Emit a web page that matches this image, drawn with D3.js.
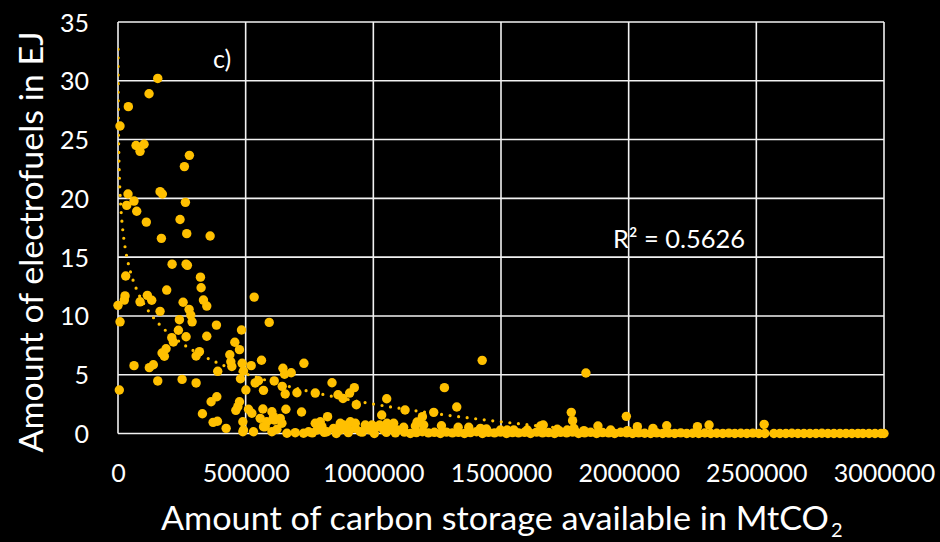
<!DOCTYPE html>
<html>
<head>
<meta charset="utf-8">
<script src="https://cdn.jsdelivr.net/npm/d3@7"></script>
<style>
html,body{margin:0;padding:0;background:#000;}
svg{display:block;}
text{font-family:Lato, "Open Sans", sans-serif;fill:#fff;}
</style>
</head>
<body>
<div id="chart"></div>
<script>
// ---- Data ----
const xTicks = [0, 500000, 1000000, 1500000, 2000000, 2500000, 3000000];
const yTicks = [0, 5, 10, 15, 20, 25, 30, 35];

// upper / mid scatter
const storageUpper = [155700,121600,40500,7800,70600,102000,86300,279600,260000,39200,34100,62700,73300,111000,164700,173700,264000,243000,169900,269200,360800,211800,266700,271800,322900,30200,325500,190800,27500,24800,0,115000,132100,86300,254900,334600,347700,278400,285000,290200,164700,533300,8000,240500,385600,592200,483700,236500,266700,347700,210600,216900,457500,188200,172500,181600,318900,305900,437900,475700,441800,445800,486300,521600,562000,645900,652200,678400,728200,62700,122700,138400,390600,479600,491400,5100,155700,251000,305900,537200,550300,569800,500800,611800,643100,654900,700800,772500,838100,861600,881200,907200,925500,387000,364700,330600,372500,389400,423500,475700,469400,461600,511000,524300,489000,489000,657600,718800,567500,602800,635300,933300,1052400,1032700,1426300,1832600,1278400,1326700,1124300,1236500,1192200,1171400,1053700,1024700,1775200,1780400,1990900,1665400,1879600,1118800,1197300,1266700,1332200,1373700,1443100,1720400,1929400,2034100,2095300,2149000,2269400,2314900,2530600];
const fuelsUpper = [30.2,28.9,27.8,26.15,24.5,24.6,24.0,23.66,22.7,20.37,19.4,19.77,18.9,17.98,20.57,20.37,19.66,18.2,16.6,17.0,16.8,14.4,14.4,14.3,13.3,13.4,12.4,12.2,11.7,11.35,10.9,11.75,11.33,11.2,11.16,11.35,10.84,10.56,10.08,9.5,10.39,11.6,9.5,9.68,9.22,9.45,8.8,8.78,8.23,8.27,8.15,7.78,7.76,7.21,6.85,6.57,6.96,6.59,6.7,7.13,6.1,5.7,5.97,5.77,6.23,5.55,5.04,5.17,5.97,5.77,5.6,5.85,5.29,4.66,5.32,3.7,4.47,4.6,4.3,4.3,4.49,3.67,3.7,4.47,4.01,3.36,3.47,3.44,4.32,3.3,2.98,3.44,3.9,3.13,2.7,1.68,0.95,1.04,0.44,2.7,2.28,1.97,2.06,1.72,1.0,0.15,2.06,1.83,2.08,1.85,1.29,2.45,2.96,1.57,6.22,5.15,3.9,2.25,2.0,1.8,1.43,0.98,0.87,0.72,1.8,1.09,1.46,0.72,0.64,0.53,0.72,0.66,0.53,0.53,0.38,0.36,0.3,0.58,0.44,0.66,0.58,0.72,0.78];

// low cluster
const storageLow = [556900,583100,609000,642000,820800,792200,772500,870600,909800,929400,968600,1079600,491400,530600,576500,602800,622400,661600,694100,726700,746300,779200,798800,818400,844300,870600,896900,929400,949000,988200,1014500,1040400,1066700,1092900,883500,994900,1164700,1419600,1498000,1550200,1654900,1785500,1524200,1602800,1759500,1824700,1994900,570000,611800];
const fuelsLow = [1.29,1.0,1.43,0.87,1.43,1.0,0.87,0.87,1.0,0.87,0.72,0.87,0.3,0.15,0.58,0.15,0.36,0.02,0.07,0.02,0.15,0.3,0.58,0.15,0.44,0.3,0.58,0.44,0.15,0.3,0.58,0.3,0.44,0.3,0.72,0.72,0.64,0.44,0.3,0.3,0.64,0.44,0.3,0.3,0.3,0.24,0.24,0.58,1.15];

// points lying on (or just above) zero
const storageZero = [760800,807800,854900,902000,956900,1003900,1051000,1086300,1121600,1145100,1168600,1192200,1215700,1239200,1262800,1286300,1309800,1333400,1356900,1380400,1404000,1427500,1451000,1474500,1498100,1521600,1545100,1568700,1592200,1615700,1639300,1662800,1686300,1709800,1733300,1756900,1780400,1803900,1827500,1851000,1874500,1898000,1921600,1945100,1968600,1992200,2015700,2039200,2062800,2086300,2109800,2133400,2156900,2180400,2204000,2227500,2251000,2274500,2298100,2321600,2345100,2368700,2392200,2415700,2439300,2462800,2486300,2509800,2533400,2568600,2592200,2615700,2639300,2662800,2686300,2709800,2733400,2756900,2780400,2803900,2827500,2851000,2874500,2898000,2917600,2941200,2964700,2988200,3000000];
const fuelsZero = [0.05,0.1,0,0.08,0.12,0,0.1,0.05,0.12,0,0.08,0.15,0.05,0.1,0,0.12,0.05,0.1,0,0.08,0.15,0,0.1,0.05,0.12,0,0.08,0.05,0.1,0,0.12,0.05,0.08,0,0.1,0.05,0.12,0,0.05,0.1,0,0.08,0.05,0,0.1,0.05,0,0.05,0.02,0,0.05,0,0.03,0,0.05,0,0.02,0,0.04,0,0.02,0,0.03,0,0.02,0,0.03,0,0,0,0,0,0.02,0,0,0,0,0.02,0,0,0,0,0,0,0,0,0,0,0];

// logarithmic trend line: y = a*ln(x) + b
const trendA = -3.72;
const trendB = 53.9;
const rSquared = "R\u00B2 = 0.5626";
const panelLabel = "c)";

// ---- Drawing ----
const W = 940, H = 542;
const gold = "#FFC000";
const svg = d3.select("#chart").append("svg").attr("width", W).attr("height", H)
  .style("background", "#000");

const x = d3.scaleLinear().domain([0, 3000000]).range([118, 884]);
const y = d3.scaleLinear().domain([0, 35]).range([433.5, 22]);

// gridlines
svg.append("g").selectAll("line.h").data(yTicks).join("line")
  .attr("x1", x(0)).attr("x2", x(3000000))
  .attr("y1", d => y(d)).attr("y2", d => y(d))
  .attr("stroke", "#f2f2f2").attr("stroke-width", 1.6);
svg.append("g").selectAll("line.v").data(xTicks).join("line")
  .attr("y1", y(0)).attr("y2", y(35))
  .attr("x1", d => x(d)).attr("x2", d => x(d))
  .attr("stroke", "#f2f2f2").attr("stroke-width", 1.6);

// axes via d3 axis (labels only)
const xAxis = d3.axisBottom(x).tickValues(xTicks).tickFormat(d3.format("d")).tickSize(0).tickPadding(0);
const gx = svg.append("g").call(xAxis);
gx.select(".domain").remove();
gx.selectAll("text").attr("y", 482).attr("dy", null)
  .attr("font-size", 25).attr("fill", "#fff").attr("font-family", "Lato");

const yAxis = d3.axisLeft(y).tickValues(yTicks).tickFormat(d3.format("d")).tickSize(0).tickPadding(0);
const gy = svg.append("g").call(yAxis);
gy.select(".domain").remove();
gy.selectAll("text").attr("x", 89).attr("dy", "0.36em")
  .attr("font-size", 25).attr("fill", "#fff").attr("font-family", "Lato").attr("text-anchor", "end");

// points
const pts = [];
storageUpper.forEach((v, i) => pts.push([v, fuelsUpper[i]]));
storageLow.forEach((v, i) => pts.push([v, fuelsLow[i]]));
storageZero.forEach((v, i) => pts.push([v, fuelsZero[i]]));

svg.append("g").selectAll("circle").data(pts).join("circle")
  .attr("cx", d => x(d[0])).attr("cy", d => y(d[1]))
  .attr("r", 4.7).attr("fill", gold);

// trend line (dotted), clipped to plot area
svg.append("clipPath").attr("id", "plotclip").append("rect")
  .attr("x", x(0)).attr("y", y(35)).attr("width", x(3000000) - x(0)).attr("height", y(0) - y(35));
const trendX = d3.range(0, 401).map(i => 300 * Math.pow(3000000 / 300, i / 400));
const line = d3.line().x(d => x(d)).y(d => y(trendA * Math.log(d) + trendB));
svg.append("path").datum(trendX).attr("d", line)
  .attr("clip-path", "url(#plotclip)")
  .attr("fill", "none").attr("stroke", gold).attr("stroke-width", 3.2)
  .attr("stroke-linecap", "round").attr("stroke-dasharray", "0 8.6");

// labels
svg.append("text").attr("x", 213).attr("y", 68).attr("font-size", 25).text(panelLabel);
svg.append("text").attr("x", 613).attr("y", 248).attr("font-size", 25)
  .attr("textLength", 132).attr("lengthAdjust", "spacingAndGlyphs").text(rSquared);

// axis titles
svg.append("text").attr("x", 161).attr("y", 530).attr("font-size", 33)
  .attr("textLength", 668).attr("lengthAdjust", "spacingAndGlyphs")
  .text("Amount of carbon storage available in MtCO");
svg.append("text").attr("x", 831).attr("y", 537).attr("font-size", 20).text("2");

svg.append("text").attr("transform", "translate(43,242) rotate(-90)")
  .attr("text-anchor", "middle").attr("font-size", 33)
  .attr("textLength", 421).attr("lengthAdjust", "spacingAndGlyphs")
  .text("Amount of electrofuels in EJ");
</script>
</body>
</html>
